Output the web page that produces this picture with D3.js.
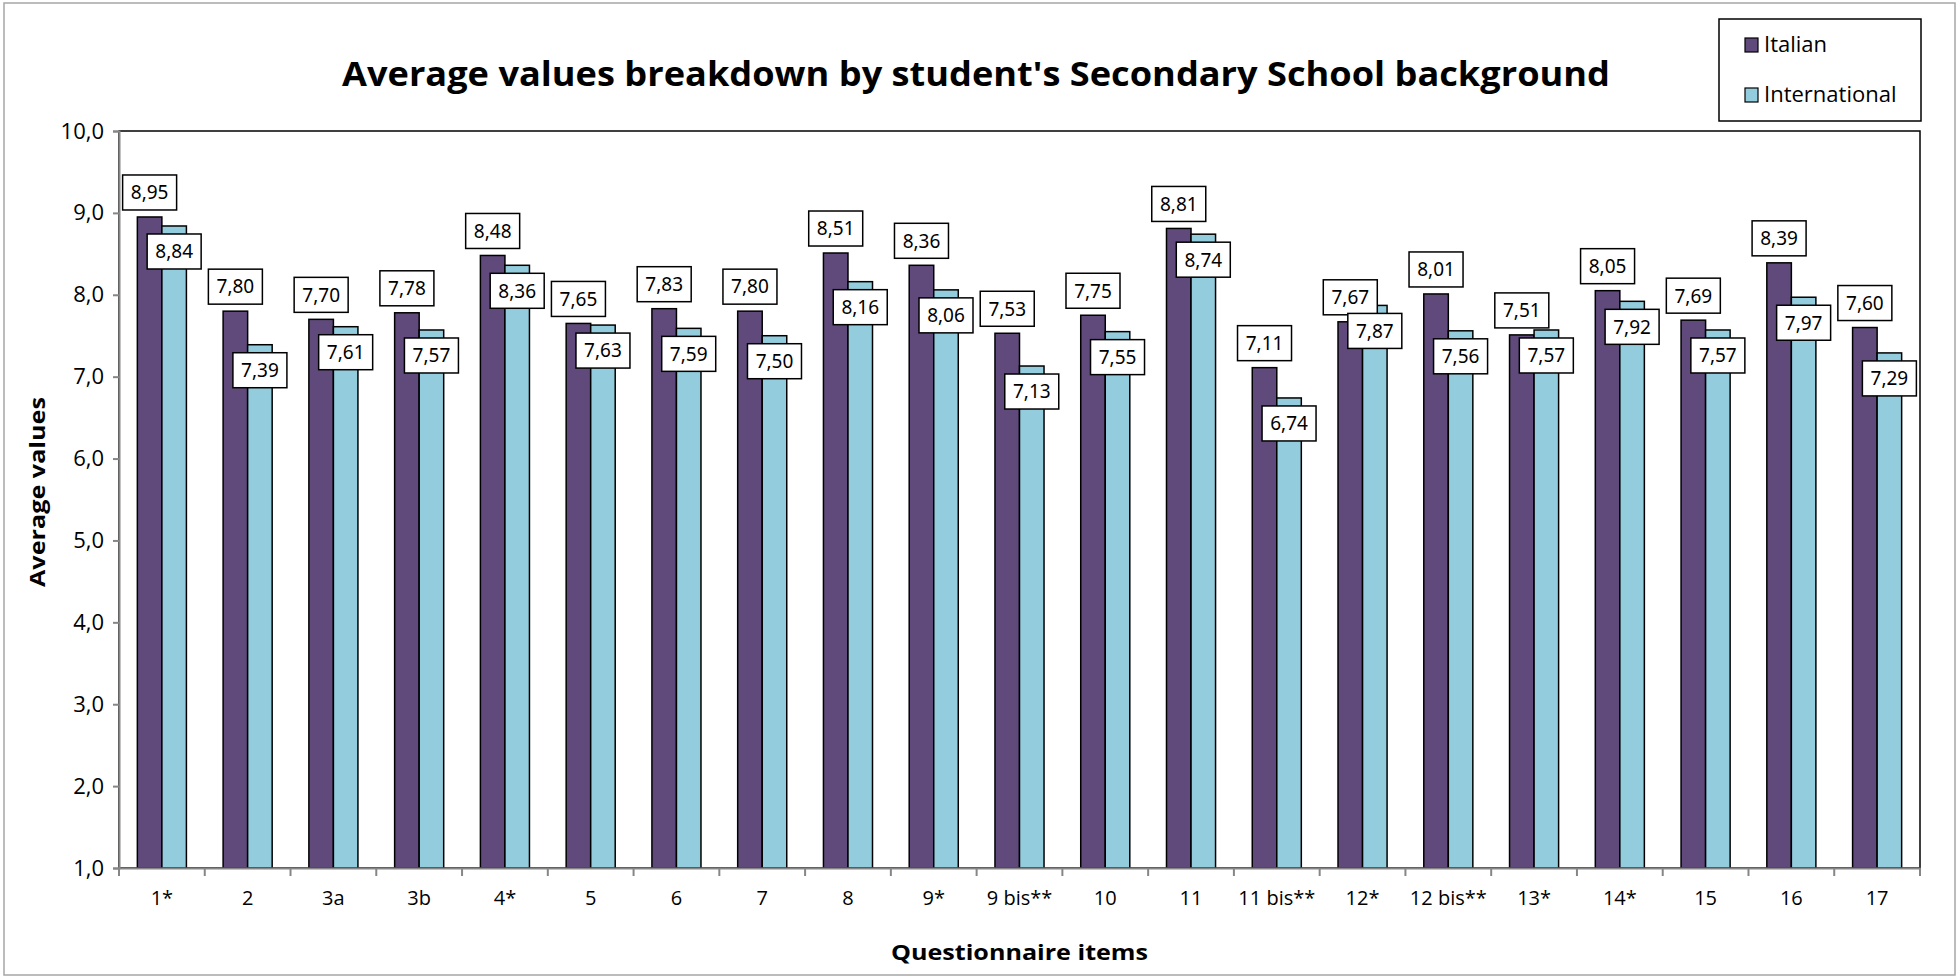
<!DOCTYPE html>
<html>
<head>
<meta charset="utf-8">
<script src="https://cdn.jsdelivr.net/npm/d3@7"></script>
<style>
	body { margin: 0; background: #fff; }
	svg { display: block; }
	.comic { font-family: 'Comic Sans MS', 'Open Sans', sans-serif; }
	.val { font-family: 'Noto Sans', sans-serif; font-size: 19px; }
</style>
</head>
<body>
<div id="chart"></div>
<script>
// ********** GROUPED BAR CHART **********

// Data
const categories = ['1*', '2', '3a', '3b', '4*', '5', '6', '7', '8', '9*', '9 bis**', '10',
	'11', '11 bis**', '12*', '12 bis**', '13*', '14*', '15', '16', '17'];
const italian = [8.95, 7.80, 7.70, 7.78, 8.48, 7.65, 7.83, 7.80, 8.51, 8.36, 7.53, 7.75,
	8.81, 7.11, 7.67, 8.01, 7.51, 8.05, 7.69, 8.39, 7.60];
const international = [8.84, 7.39, 7.61, 7.57, 8.36, 7.63, 7.59, 7.50, 8.16, 8.06, 7.13, 7.55,
	8.74, 6.74, 7.87, 7.56, 7.57, 7.92, 7.57, 7.97, 7.29];
const seriesNames = ['Italian', 'International'];
const yTicks = [1, 2, 3, 4, 5, 6, 7, 8, 9, 10];

const width = 1959;
const height = 978;

// Plot area
const margin = {
	top: 131,
	left: 119,
	right: 39,
	bottom: 110
};

const colors = ['#604a7b', '#93cddd'];

// Italian-style number format (comma decimals)
const locale = d3.formatLocale({decimal: ',', thousands: '.', grouping: [3], currency: ['', '€']});
const fmt1 = locale.format('.1f');
const fmt2 = locale.format('.2f');

const svg = d3.select('#chart')
	.append('svg')
	.attr('width', width)
	.attr('height', height);

// Outer chart frame
svg.append('rect')
	.attr('x', 4)
	.attr('y', 3)
	.attr('width', width - 8)
	.attr('height', height - 6)
	.attr('fill', '#fff')
	.attr('stroke', '#a6a6a6')
	.attr('stroke-width', 1.5);

const x = d3.scaleBand()
	.domain(categories)
	.range([margin.left, width - margin.right])
	.paddingInner(0)
	.paddingOuter(0);

const barW = x.bandwidth() * 0.286;
const xSub = d3.scaleBand()
	.domain(seriesNames)
	.range([(x.bandwidth() - 2 * barW) / 2, (x.bandwidth() + 2 * barW) / 2]);

const y = d3.scaleLinear()
	.domain([1, 10])
	.range([height - margin.bottom, margin.top]);

// Plot area border
svg.append('rect')
	.attr('x', margin.left)
	.attr('y', margin.top)
	.attr('width', width - margin.left - margin.right)
	.attr('height', y(1) - margin.top)
	.attr('fill', 'none')
	.attr('stroke', '#000')
	.attr('stroke-width', 1.5);

// Bars
const series = [italian, international];
const groups = svg.selectAll('g.series')
	.data(seriesNames)
	.enter()
	.append('g')
	.attr('class', 'series');

groups.selectAll('rect')
	.data((s, si) => categories.map((c, i) => ({cat: c, value: series[si][i], s: s, si: si})))
	.enter()
	.append('rect')
	.attr('x', d => x(d.cat) + xSub(d.s))
	.attr('y', d => y(d.value))
	.attr('width', xSub.bandwidth())
	.attr('height', d => y(1) - y(d.value))
	.attr('fill', d => colors[d.si])
	.attr('stroke', '#000')
	.attr('stroke-width', 1.5);

// Y axis
const yAxis = svg.append('g')
	.attr('transform', `translate(${margin.left},0)`)
	.call(d3.axisLeft(y).tickValues(yTicks).tickSize(6).tickPadding(9).tickFormat(fmt1));
yAxis.select('.domain').attr('stroke', '#868686').attr('stroke-width', 2);
yAxis.selectAll('.tick line').attr('stroke', '#868686').attr('stroke-width', 2);
yAxis.selectAll('text')
	.attr('class', 'comic')
	.attr('font-size', 22)
	.attr('fill', '#000');

// X axis: labels centred, ticks on the band edges
const xAxis = svg.append('g')
	.attr('transform', `translate(0,${y(1)})`)
	.call(d3.axisBottom(x).tickSize(0).tickPadding(23));
xAxis.select('.domain').attr('stroke', '#868686').attr('stroke-width', 2);
xAxis.selectAll('text')
	.attr('class', 'comic')
	.attr('font-size', 20)
	.attr('fill', '#000');

const edges = categories.map(c => x(c)).concat([x.range()[1]]);
xAxis.selectAll('line.edge')
	.data(edges)
	.enter()
	.append('line')
	.attr('class', 'edge')
	.attr('x1', d => d)
	.attr('x2', d => d)
	.attr('y1', 0)
	.attr('y2', 8)
	.attr('stroke', '#868686')
	.attr('stroke-width', 2);

// Data labels: Italian above the bar, International just inside the bar top
const boxW = 54, boxH = 35;
const labelData = [];
seriesNames.forEach((s, si) => {
	categories.forEach((c, i) => {
		const v = series[si][i];
		const cy = si === 0 ? y(v) - 7 - boxH / 2 : y(v) + 8 + boxH / 2;
		labelData.push({cx: x(c) + xSub(s) + xSub.bandwidth() / 2, cy: cy, v: v});
	});
});

const labels = svg.selectAll('g.label')
	.data(labelData)
	.enter()
	.append('g')
	.attr('class', 'label')
	.attr('transform', d => `translate(${d.cx},${d.cy})`);

labels.append('rect')
	.attr('x', -boxW / 2)
	.attr('y', -boxH / 2)
	.attr('width', boxW)
	.attr('height', boxH)
	.attr('fill', '#fff')
	.attr('stroke', '#000')
	.attr('stroke-width', 1.5);

labels.append('text')
	.attr('class', 'val')
	.attr('text-anchor', 'middle')
	.attr('dy', '0.36em')
	.text(d => fmt2(d.v));

// Title
svg.append('text')
	.attr('class', 'comic')
	.attr('x', 976)
	.attr('y', 86)
	.attr('text-anchor', 'middle')
	.attr('font-size', 34)
	.attr('font-weight', 'bold')
	.attr('textLength', 1268)
	.attr('lengthAdjust', 'spacingAndGlyphs')
	.text("Average values breakdown by student's Secondary School background");

// Axis titles
svg.append('text')
	.attr('class', 'comic')
	.attr('transform', `translate(45,${492}) rotate(-90)`)
	.attr('text-anchor', 'middle')
	.attr('font-size', 22)
	.attr('font-weight', 'bold')
	.attr('textLength', 190)
	.attr('lengthAdjust', 'spacingAndGlyphs')
	.text('Average values');

svg.append('text')
	.attr('class', 'comic')
	.attr('x', (margin.left + width - margin.right) / 2)
	.attr('y', 960)
	.attr('text-anchor', 'middle')
	.attr('font-size', 22)
	.attr('font-weight', 'bold')
	.attr('textLength', 257)
	.attr('lengthAdjust', 'spacingAndGlyphs')
	.text('Questionnaire items');

// Legend
const legend = svg.append('g')
	.attr('class', 'legendGroup')
	.attr('transform', 'translate(1719,19)');

legend.append('rect')
	.attr('width', 202)
	.attr('height', 102)
	.attr('fill', '#fff')
	.attr('stroke', '#000')
	.attr('stroke-width', 1.5);

const items = legend.selectAll('g.item')
	.data(seriesNames)
	.enter()
	.append('g')
	.attr('class', 'item')
	.attr('transform', (d, i) => `translate(26,${19 + i * 50})`);

items.append('rect')
	.attr('width', 13)
	.attr('height', 14)
	.attr('fill', (d, i) => colors[i])
	.attr('stroke', '#000')
	.attr('stroke-width', 1.2);

items.append('text')
	.attr('class', 'comic')
	.attr('x', 19)
	.attr('y', 14)
	.attr('font-size', 22)
	.attr('fill', '#000')
	.text(d => d);
</script>
</body>
</html>
